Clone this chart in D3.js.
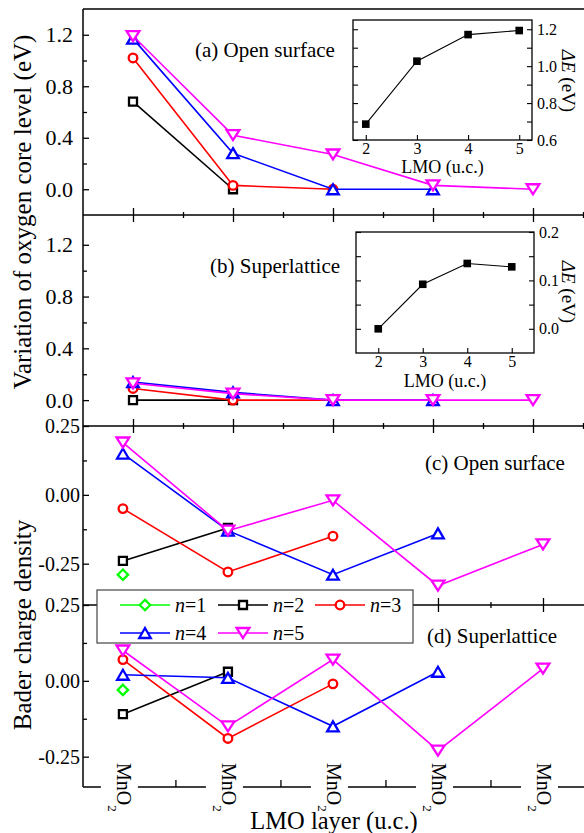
<!DOCTYPE html>
<html><head><meta charset="utf-8">
<script src="https://cdn.jsdelivr.net/npm/d3@7"></script>
<style>
body{margin:0;background:#fff}
svg{display:block}
text{font-family:"Liberation Serif","Times New Roman",serif;fill:#000}
</style>
</head><body><svg id="chart" width="584" height="833"></svg>
<script>
// ---------- DATA ----------
const layerIdx = [1, 2, 3, 4, 5];
const layerLabel = "MnO";
const seriesNames = ["n=1", "n=2", "n=3", "n=4", "n=5"];
const seriesColors = ["#00ff00", "#000000", "#ff0000", "#0000ff", "#ff00ff"];
const seriesSymbols = ["diamond", "square", "circle", "triangle", "triangleDown"];

// (a) oxygen core level variation, open surface (eV)
const coreOpen_n2 = [0.68, 0.00];
const coreOpen_n3 = [1.02, 0.03, 0.00];
const coreOpen_n4 = [1.17, 0.28, 0.00, 0.00];
const coreOpen_n5 = [1.19, 0.42, 0.27, 0.03, 0.00];
// (b) oxygen core level variation, superlattice (eV)
const coreSL_n2 = [0.00, 0.00];
const coreSL_n3 = [0.09, 0.00, 0.00];
const coreSL_n4 = [0.14, 0.06, 0.00, 0.00];
const coreSL_n5 = [0.13, 0.05, 0.00, 0.00, 0.00];
// (c) Bader charge density, open surface
const baderOpen_n1 = [-0.29];
const baderOpen_n2 = [-0.24, -0.12];
const baderOpen_n3 = [-0.05, -0.28, -0.15];
const baderOpen_n4 = [0.15, -0.13, -0.29, -0.14];
const baderOpen_n5 = [0.19, -0.13, -0.02, -0.33, -0.18];
// (d) Bader charge density, superlattice
const baderSL_n1 = [-0.03];
const baderSL_n2 = [-0.11, 0.03];
const baderSL_n3 = [0.07, -0.19, -0.01];
const baderSL_n4 = [0.02, 0.01, -0.15, 0.03];
const baderSL_n5 = [0.10, -0.15, 0.07, -0.23, 0.04];
// insets: Delta E vs LMO thickness
const insetLMO = [2, 3, 4, 5];
const insetOpenDE = [0.686, 1.027, 1.171, 1.193];
const insetSLDE = [0.000, 0.092, 0.135, 0.128];

// tick values
const coreMajor = [0.0, 0.4, 0.8, 1.2];
const coreMinor = [0.2, 0.6, 1.0];
const baderMajor = [-0.25, 0.00, 0.25];
const baderMinor = [-0.125, 0.125];
const insetAMajor = [0.6, 0.8, 1.0, 1.2];
const insetAMinor = [0.7, 0.9, 1.1];
const insetBMajor = [0.0, 0.1, 0.2];
const insetBMinor = [0.05, 0.15];

// ---------- SETUP ----------
const svg = d3.select("#chart");
const loc = d3.formatLocale({decimal: ".", thousands: ",", grouping: [3], currency: ["", ""], minus: "-"});
const f1 = loc.format(".1f"), f2 = loc.format(".2f");

const X0 = 83, XR = 584;
const xAB = d3.scaleLinear([0.5, 5.5], [83, 583]);
const xCD = d3.scaleLinear([0.62, 5.4], [83, 585]);
const yA = d3.scaleLinear([-0.2, 1.4], [215, 9]);
const yB = d3.scaleLinear([-0.2, 1.43], [426, 215]);
const yC = d3.scaleLinear([-0.4, 0.25], [605, 426]);
const yD = d3.scaleLinear([-0.35, 0.25], [787, 605]);

function markerPath(t) {
  switch (t) {
    case "square": return "M-4,-4H4V4H-4Z";
    case "circle": return d3.symbol(d3.symbolCircle, Math.PI * 4.3 * 4.3)();
    case "diamond": return "M0,-5.2L5.2,0L0,5.2L-5.2,0Z";
    case "triangle": return "M0,-5L5.8,5L-5.8,5Z";
    case "triangleDown": return "M0,5L6.4,-5L-6.4,-5Z";
  }
}

// ---------- FRAME LINES ----------
const frame = svg.append("g").attr("stroke", "#000").attr("stroke-width", 1.5).attr("fill", "none");
frame.append("line").attr("x1", X0).attr("x2", X0).attr("y1", yA.range()[1]).attr("y2", yD.range()[0]);
[yA.range()[1], yA.range()[0], yB.range()[0], yC.range()[0], yD.range()[0]].forEach(y =>
  frame.append("line").attr("x1", X0).attr("x2", XR).attr("y1", y).attr("y2", y));

// left axes
function leftAxis(y, majors, minors, fmt, fs, pad) {
  const g = svg.append("g").attr("transform", `translate(${X0},0)`);
  g.call(d3.axisLeft(y).tickValues(majors).tickSize(-6).tickPadding(pad).tickFormat(fmt));
  g.select(".domain").remove();
  g.selectAll(".tick line").attr("stroke-width", 1.3);
  g.selectAll("text").attr("font-size", fs).attr("font-family", "Liberation Serif").attr("fill", "#000");
  const m = svg.append("g").attr("transform", `translate(${X0},0)`);
  m.call(d3.axisLeft(y).tickValues(minors).tickSize(-4).tickFormat(""));
  m.select(".domain").remove();
  m.selectAll(".tick line").attr("stroke-width", 1.3);
}
leftAxis(yA, coreMajor, coreMinor, f1, 22, 10);
leftAxis(yB, coreMajor, coreMinor, f1, 22, 10);
leftAxis(yC, baderMajor, baderMinor, f2, 20, 3);
leftAxis(yD, baderMajor, baderMinor, f2, 20, 3);

// horizontal boundary ticks (crossing)
function hTicks(x, yPos, majors, minors, up, down, upMin, downMin) {
  const g = svg.append("g").attr("transform", `translate(0,${yPos})`);
  g.call(d3.axisBottom(x).tickValues(majors).tickSize(0).tickFormat(""));
  g.select(".domain").remove();
  g.selectAll(".tick line").attr("y1", -up).attr("y2", down).attr("stroke", "#000").attr("stroke-width", 1.3);
  const m = svg.append("g").attr("transform", `translate(0,${yPos})`);
  m.call(d3.axisBottom(x).tickValues(minors).tickSize(0).tickFormat(""));
  m.select(".domain").remove();
  m.selectAll(".tick line").attr("y1", -upMin).attr("y2", downMin).attr("stroke", "#000").attr("stroke-width", 1.3);
}
const halfAB = [1.5, 2.5, 3.5, 4.5, 5.5];
const halfCD = [1.5, 2.5, 3.5, 4.5];
hTicks(xAB, yA.range()[0], layerIdx, halfAB, 7, 7, 3, 3);
hTicks(xAB, yB.range()[0], layerIdx, halfAB, 7, 7, 3, 3);
hTicks(xCD, yC.range()[0], layerIdx, halfCD, 7, 7, 3, 3);
hTicks(xCD, yD.range()[0], layerIdx, halfCD, 7, 0, 7, 0);

// ---------- SERIES ----------
function drawPanel(x, y, seriesList) {
  seriesList.forEach(([vals, i]) => {
    if (!vals) return;
    const pts = vals.map((v, k) => [layerIdx[k], v]);
    const g = svg.append("g");
    g.append("path").datum(pts)
      .attr("d", d3.line().x(d => x(d[0])).y(d => y(d[1])))
      .attr("fill", "none").attr("stroke", seriesColors[i]).attr("stroke-width", 1.6);
    g.selectAll("path.m").data(pts).join("path").attr("class", "m")
      .attr("transform", d => `translate(${x(d[0])},${y(d[1])})`)
      .attr("d", markerPath(seriesSymbols[i]))
      .attr("fill", "#fff").attr("stroke", seriesColors[i]).attr("stroke-width", 2.3);
  });
}
drawPanel(xAB, yA, [[coreOpen_n2, 1], [coreOpen_n3, 2], [coreOpen_n4, 3], [coreOpen_n5, 4]]);
drawPanel(xAB, yB, [[coreSL_n2, 1], [coreSL_n3, 2], [coreSL_n4, 3], [coreSL_n5, 4]]);
drawPanel(xCD, yC, [[baderOpen_n1, 0], [baderOpen_n2, 1], [baderOpen_n3, 2], [baderOpen_n4, 3], [baderOpen_n5, 4]]);
drawPanel(xCD, yD, [[baderSL_n1, 0], [baderSL_n2, 1], [baderSL_n3, 2], [baderSL_n4, 3], [baderSL_n5, 4]]);

// ---------- PANEL TITLES ----------
const titles = [["(a) Open surface", 195, 57], ["(b) Superlattice", 210, 273], ["(c) Open surface", 425, 470], ["(d) Superlattice", 427, 643]];
titles.forEach(([t, x, y]) => svg.append("text").attr("x", x).attr("y", y).attr("font-size", 21).text(t));

// ---------- INSETS ----------
function inset(xs, ys, majors, minors, fmt, data) {
  const [x0, x1] = xs.range(), [y1, y0] = ys.range();
  const g = svg.append("g");
  g.append("rect").attr("x", x0).attr("y", y0).attr("width", x1 - x0).attr("height", y1 - y0)
    .attr("fill", "#fff").attr("stroke", "#000").attr("stroke-width", 1.3);
  const all = majors.concat(minors);
  const gl = g.append("g").attr("transform", `translate(${x0},0)`)
    .call(d3.axisLeft(ys).tickValues(all).tickSize(-5).tickFormat(""));
  gl.select(".domain").remove();
  const gr = g.append("g").attr("transform", `translate(${x1},0)`)
    .call(d3.axisRight(ys).tickValues(majors).tickSize(-5).tickPadding(5).tickFormat(fmt));
  gr.select(".domain").remove();
  gr.selectAll("text").attr("font-size", 16).attr("font-family", "Liberation Serif").attr("fill", "#000");
  const gr2 = g.append("g").attr("transform", `translate(${x1},0)`)
    .call(d3.axisRight(ys).tickValues(minors).tickSize(-5).tickFormat(""));
  gr2.select(".domain").remove();
  const gb = g.append("g").attr("transform", `translate(0,${y1})`)
    .call(d3.axisBottom(xs).tickValues(insetLMO).tickSize(-5).tickPadding(3).tickFormat(d3.format("d")));
  gb.select(".domain").remove();
  gb.selectAll("text").attr("font-size", 16).attr("font-family", "Liberation Serif").attr("fill", "#000");
  g.selectAll(".tick line").attr("stroke", "#000").attr("stroke-width", 1.1);
  const pts = insetLMO.map((v, k) => [v, data[k]]);
  g.append("path").datum(pts).attr("d", d3.line().x(d => xs(d[0])).y(d => ys(d[1])))
    .attr("fill", "none").attr("stroke", "#000").attr("stroke-width", 1.1);
  g.selectAll("rect.pt").data(pts).join("rect").attr("class", "pt")
    .attr("x", d => xs(d[0]) - 3.8).attr("y", d => ys(d[1]) - 3.8).attr("width", 7.6).attr("height", 7.6)
    .attr("fill", "#000");
}
const xIA = d3.scaleLinear([1.75, 5.25], [353, 532]);
const yIA = d3.scaleLinear([0.6, 1.25], [140, 20]);
const xIB = d3.scaleLinear([1.5, 5.5], [356, 534]);
const yIB = d3.scaleLinear([-0.05, 0.2], [353, 232]);
inset(xIA, yIA, insetAMajor, insetAMinor, f1, insetOpenDE);
inset(xIB, yIB, insetBMajor, insetBMinor, f1, insetSLDE);

function insetLabels(xs, yCenter, lmoBaseline) {
  const [x0, x1] = xs.range();
  svg.append("text").attr("x", (x0 + x1) / 2).attr("y", lmoBaseline).attr("text-anchor", "middle")
    .attr("font-size", 18).text("LMO (u.c.)");
  const t = svg.append("text").attr("transform", `translate(562,${yCenter}) rotate(90)`)
    .attr("text-anchor", "middle").attr("font-size", 19);
  t.append("tspan").attr("font-style", "italic").text("\u0394E");
  t.append("tspan").text(" (eV)");
}
insetLabels(xIA, 81, 173);
insetLabels(xIB, 292, 387);

// ---------- LEGEND ----------
const leg = svg.append("g");
leg.append("rect").attr("x", 97).attr("y", 590).attr("width", 316).attr("height", 53)
  .attr("fill", "#fff").attr("stroke", "#444").attr("stroke-width", 1.2);
const legPos = [[145, 605], [243, 605], [340, 605], [145, 633], [243, 633]];
seriesNames.forEach((name, i) => {
  const [cx, cy] = legPos[i];
  leg.append("line").attr("x1", cx - 25).attr("x2", cx + 25).attr("y1", cy).attr("y2", cy)
    .attr("stroke", seriesColors[i]).attr("stroke-width", 1.6);
  leg.append("path").attr("transform", `translate(${cx},${cy})`).attr("d", markerPath(seriesSymbols[i]))
    .attr("fill", "#fff").attr("stroke", seriesColors[i]).attr("stroke-width", 2.3);
  const t = leg.append("text").attr("x", cx + 30).attr("y", cy + 6.5).attr("font-size", 20);
  const [a, b] = name.split("=");
  t.append("tspan").attr("font-style", "italic").text(a);
  t.append("tspan").text("=" + b);
});

// ---------- X LABELS (MnO2) ----------
layerIdx.forEach(i => {
  const cx = xCD(i);
  svg.append("rect").attr("x", cx - 22).attr("y", 758).attr("width", 37).attr("height", 58).attr("fill", "#fff");
  const t = svg.append("text").attr("transform", `translate(${cx - 6},763) rotate(90)`).attr("font-size", 20);
  t.append("tspan").text(layerLabel);
  t.append("tspan").attr("font-size", 13).attr("dy", 9).text("2");
});

// ---------- AXIS TITLES ----------
svg.append("text").attr("x", 334).attr("y", 829).attr("text-anchor", "middle").attr("font-size", 24.5)
  .text("LMO layer (u.c.)");
svg.append("text").attr("transform", "translate(31,212) rotate(-90)").attr("text-anchor", "middle")
  .attr("font-size", 25).text("Variation of oxygen core level (eV)");
svg.append("text").attr("transform", "translate(31,625) rotate(-90)").attr("text-anchor", "middle")
  .attr("font-size", 25).text("Bader charge density");
</script></body></html>
